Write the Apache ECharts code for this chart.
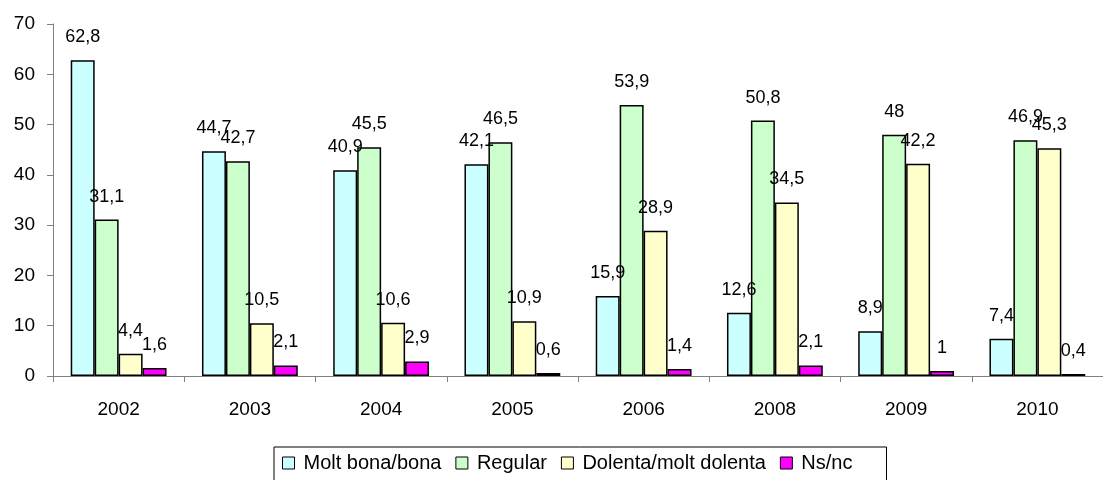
<!DOCTYPE html>
<html>
<head>
<meta charset="utf-8">
<script src="https://cdn.jsdelivr.net/npm/echarts@6/dist/echarts.min.js"></script>
<style>
  html, body { margin: 0; padding: 0; background: #fff; }
  #main { width: 1103px; height: 480px; }
</style>
</head>
<body>
<div id="main"></div>
<script>
var years = ['2002', '2003', '2004', '2005', '2006', '2008', '2009', '2010'];
var seriesNames = ['Molt bona/bona', 'Regular', 'Dolenta/molt dolenta', 'Ns/nc'];
var moltBona = [62.8, 44.7, 40.9, 42.1, 15.9, 12.6, 8.9, 7.4];
var regular = [31.1, 42.7, 45.5, 46.5, 53.9, 50.8, 48, 46.9];
var dolenta = [4.4, 10.5, 10.6, 10.9, 28.9, 34.5, 42.2, 45.3];
var nsnc = [1.6, 2.1, 2.9, 0.6, 1.4, 2.1, 1, 0.4];
var colors = ['#ccffff', '#ccffcc', '#ffffcc', '#ff00ff'];
var font = '"Liberation Sans", Arial, sans-serif';

var chart = echarts.init(document.getElementById('main'), null, { renderer: 'canvas' });

// decimal comma like the original
function commaLabel(p) {
  return String(p.value).replace('.', ',');
}

function makeSeries(name, values, i) {
  return {
    name: name,
    type: 'bar',
    data: values,
    barGap: '0%',
    barCategoryGap: '27%',
    itemStyle: {
      color: colors[i],
      borderColor: '#000',
      borderWidth: 1.5
    },
    label: {
      show: true,
      position: 'top',
      distance: 14,
      formatter: commaLabel,
      color: '#000',
      fontFamily: font,
      fontSize: 18
    },
    emphasis: { disabled: true }
  };
}

chart.setOption({
  animation: false,
  backgroundColor: '#fff',
  grid: {
    left: 53,
    top: 24,
    width: 1056,
    height: 352
  },
  legend: {
    data: seriesNames,
    left: 274,
    top: 447,
    padding: [6, 34, 30, 8],
    itemGap: 14,
    itemWidth: 12,
    itemHeight: 12,
    borderColor: '#000',
    borderWidth: 1,
    icon: 'rect',
    itemStyle: { borderColor: '#000', borderWidth: 1 },
    textStyle: { color: '#000', fontFamily: font, fontSize: 20, padding: [0, 0, 0, 4] }
  },
  xAxis: {
    type: 'category',
    data: years,
    axisLine: { lineStyle: { color: '#808080', width: 1 } },
    axisTick: { show: true, length: 6, lineStyle: { color: '#808080' } },
    axisLabel: { color: '#000', fontFamily: font, fontSize: 19, margin: 24 },
    splitLine: { show: false }
  },
  yAxis: {
    type: 'value',
    min: 0,
    max: 70,
    interval: 10,
    axisLine: { show: true, lineStyle: { color: '#808080', width: 1 } },
    axisTick: { show: true, length: 6, lineStyle: { color: '#808080' } },
    axisLabel: { color: '#000', fontFamily: font, fontSize: 19, margin: 18 },
    splitLine: { show: false }
  },
  series: [
    makeSeries(seriesNames[0], moltBona, 0),
    makeSeries(seriesNames[1], regular, 1),
    makeSeries(seriesNames[2], dolenta, 2),
    makeSeries(seriesNames[3], nsnc, 3)
  ]
});
</script>
</body>
</html>
